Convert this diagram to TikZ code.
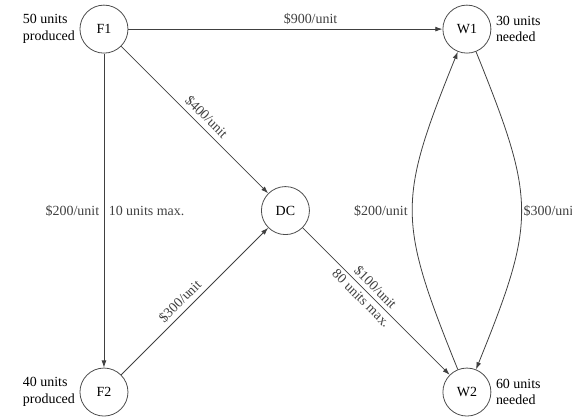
\documentclass[tikz,border=0pt]{standalone}
\usepackage{fontspec}
\setmainfont{Liberation Serif}
\usetikzlibrary{arrows.meta,positioning}
\tikzset{
    ship/.style={-{Latex[length=1.9mm, width=1.3mm]}, line width=0.6pt, black!75},
    site/.style={draw=black!70, line width=0.6pt, circle, minimum size=1.27cm, on grid},
    note/.style={align=left}
}
\begin{document}
\begin{tikzpicture}[node distance=4.8cm and 4.8cm, font=\fontsize{10.5}{12.5}\selectfont]
    \useasboundingbox (-2.75,0.77) rectangle (12.38,-10.32);
    \node[site] (f1) {F1};
    \node[site, below right=of f1] (dc) {DC};
    \node[site, above right=of dc] (w1) {W1};
    \node[site, below left=of dc] (f2) {F2};
    \node[site, below right=of dc] (w2) {W2};

    \node[note, left=0pt of f1] (f1n) {50 units\\produced};
    \node[note, right=0pt of w1] (w1n) {30 units\\needed};
    \node[note, left=0pt of f2] (f2n) {40 units\\produced};
    \node[note, right=0pt of w2] (w2n) {60 units\\needed};

    \draw[ship] (f1) -- node[above, pos=0.58] {\$900/unit} (w1);
    \draw[ship] (f1) -- node[above, sloped, pos=0.53] {\$400/unit} (dc);
    \draw[ship] (f1) -- node[left] {\$200/unit} node[right] {10 units max.} (f2);
    \draw[ship] (f2) -- node[above, sloped, pos=0.45] {\$300/unit} (dc);
    \draw[ship] (dc) -- node[above, sloped, pos=0.45, inner sep=2.5pt] {\$100/unit}
        node[below, sloped, pos=0.44, inner sep=2.5pt] {80 units max.} (w2);
    \draw[ship] (w2) to[out=112, in=-112, looseness=1.3] node[left] {\$200/unit} (w1);
    \draw[ship] (w1) to[out=-68, in=68, looseness=1.3] node[right, inner sep=1.5pt] {\$300/unit} (w2);
\end{tikzpicture}
\end{document}
